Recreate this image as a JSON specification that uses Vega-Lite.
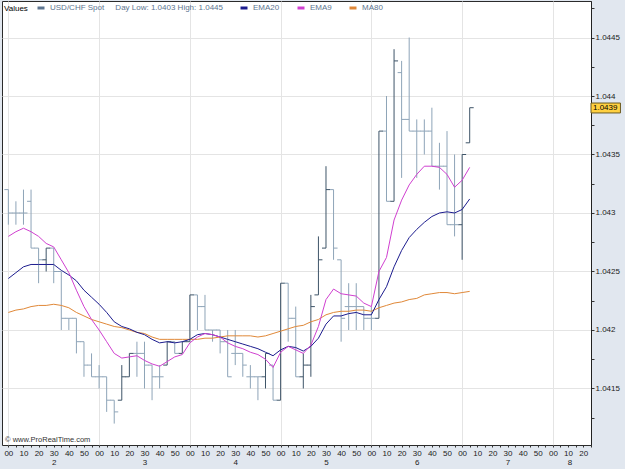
{
  "$schema": "https://vega.github.io/schema/vega-lite/v6.json",
  "width": 589,
  "height": 444,
  "autosize": {"type": "none"},
  "padding": {"left": 2, "top": 1, "right": 34, "bottom": 24},
  "background": "#e1e7ef",
  "data": {"values": [
    {"t":"2010-06-01T02:00:00Z","o":1.0432,"h":1.0432,"l":1.0429,"c":1.0430,"e20":1.04244,"e9":1.04280,"m80":1.04215},
    {"t":"2010-06-01T02:05:00Z","o":1.0430,"h":1.0431,"l":1.0429,"c":1.0430,"e20":1.04249,"e9":1.04284,"m80":1.04217},
    {"t":"2010-06-01T02:10:00Z","o":1.0430,"h":1.0432,"l":1.0429,"c":1.0430,"e20":1.04254,"e9":1.04287,"m80":1.04218},
    {"t":"2010-06-01T02:15:00Z","o":1.0431,"h":1.0432,"l":1.0427,"c":1.0427,"e20":1.04256,"e9":1.04284,"m80":1.04220},
    {"t":"2010-06-01T02:20:00Z","o":1.0427,"h":1.0427,"l":1.0424,"c":1.0426,"e20":1.04256,"e9":1.04280,"m80":1.04221},
    {"t":"2010-06-01T02:25:00Z","o":1.0426,"h":1.0427,"l":1.0425,"c":1.0427,"e20":1.04256,"e9":1.04274,"m80":1.04221},
    {"t":"2010-06-01T02:30:00Z","o":1.0427,"h":1.0427,"l":1.0424,"c":1.0425,"e20":1.04256,"e9":1.04271,"m80":1.04222},
    {"t":"2010-06-01T02:35:00Z","o":1.0425,"h":1.0425,"l":1.0420,"c":1.0421,"e20":1.04251,"e9":1.04260,"m80":1.04221},
    {"t":"2010-06-01T02:40:00Z","o":1.0421,"h":1.0421,"l":1.0420,"c":1.0421,"e20":1.04247,"e9":1.04249,"m80":1.04219},
    {"t":"2010-06-01T02:45:00Z","o":1.0421,"h":1.0421,"l":1.0418,"c":1.0419,"e20":1.04242,"e9":1.04234,"m80":1.04215},
    {"t":"2010-06-01T02:50:00Z","o":1.0419,"h":1.0419,"l":1.0416,"c":1.0417,"e20":1.04234,"e9":1.04220,"m80":1.04212},
    {"t":"2010-06-01T02:55:00Z","o":1.0417,"h":1.0418,"l":1.0416,"c":1.0416,"e20":1.04228,"e9":1.04209,"m80":1.04209},
    {"t":"2010-06-01T03:00:00Z","o":1.0416,"h":1.0417,"l":1.0415,"c":1.0416,"e20":1.04222,"e9":1.04200,"m80":1.04207},
    {"t":"2010-06-01T03:05:00Z","o":1.0416,"h":1.0416,"l":1.0413,"c":1.0414,"e20":1.04215,"e9":1.04190,"m80":1.04205},
    {"t":"2010-06-01T03:10:00Z","o":1.0414,"h":1.0414,"l":1.0412,"c":1.0413,"e20":1.04207,"e9":1.04180,"m80":1.04203},
    {"t":"2010-06-01T03:15:00Z","o":1.0414,"h":1.0417,"l":1.0414,"c":1.0416,"e20":1.04203,"e9":1.04176,"m80":1.04202},
    {"t":"2010-06-01T03:20:00Z","o":1.0416,"h":1.0418,"l":1.0416,"c":1.0418,"e20":1.04201,"e9":1.04177,"m80":1.04200},
    {"t":"2010-06-01T03:25:00Z","o":1.0418,"h":1.0419,"l":1.0416,"c":1.0418,"e20":1.04198,"e9":1.04178,"m80":1.04198},
    {"t":"2010-06-01T03:30:00Z","o":1.0418,"h":1.0419,"l":1.0415,"c":1.0417,"e20":1.04196,"e9":1.04174,"m80":1.04197},
    {"t":"2010-06-01T03:35:00Z","o":1.0417,"h":1.0417,"l":1.0414,"c":1.0416,"e20":1.04192,"e9":1.04171,"m80":1.04194},
    {"t":"2010-06-01T03:40:00Z","o":1.0416,"h":1.0417,"l":1.0415,"c":1.0416,"e20":1.04189,"e9":1.04169,"m80":1.04192},
    {"t":"2010-06-01T03:45:00Z","o":1.0417,"h":1.0419,"l":1.0417,"c":1.0419,"e20":1.04190,"e9":1.04173,"m80":1.04192},
    {"t":"2010-06-01T03:50:00Z","o":1.0419,"h":1.0419,"l":1.0418,"c":1.0418,"e20":1.04189,"e9":1.04177,"m80":1.04192},
    {"t":"2010-06-01T03:55:00Z","o":1.0418,"h":1.0419,"l":1.0418,"c":1.0419,"e20":1.04190,"e9":1.04179,"m80":1.04192},
    {"t":"2010-06-01T04:00:00Z","o":1.0419,"h":1.0423,"l":1.0419,"c":1.0423,"e20":1.04192,"e9":1.04189,"m80":1.04192},
    {"t":"2010-06-01T04:05:00Z","o":1.0423,"h":1.0423,"l":1.0420,"c":1.0422,"e20":1.04196,"e9":1.04194,"m80":1.04192},
    {"t":"2010-06-01T04:10:00Z","o":1.0422,"h":1.0423,"l":1.0420,"c":1.0420,"e20":1.04197,"e9":1.04197,"m80":1.04193},
    {"t":"2010-06-01T04:15:00Z","o":1.0420,"h":1.0420,"l":1.0419,"c":1.0420,"e20":1.04196,"e9":1.04196,"m80":1.04193},
    {"t":"2010-06-01T04:20:00Z","o":1.0420,"h":1.0420,"l":1.0418,"c":1.0419,"e20":1.04194,"e9":1.04194,"m80":1.04194},
    {"t":"2010-06-01T04:25:00Z","o":1.0419,"h":1.0420,"l":1.0416,"c":1.0416,"e20":1.04192,"e9":1.04189,"m80":1.04195},
    {"t":"2010-06-01T04:30:00Z","o":1.0418,"h":1.0420,"l":1.0417,"c":1.0418,"e20":1.04190,"e9":1.04186,"m80":1.04195},
    {"t":"2010-06-01T04:35:00Z","o":1.0418,"h":1.0418,"l":1.0416,"c":1.0417,"e20":1.04188,"e9":1.04184,"m80":1.04195},
    {"t":"2010-06-01T04:40:00Z","o":1.0416,"h":1.0417,"l":1.0415,"c":1.0416,"e20":1.04186,"e9":1.04181,"m80":1.04195},
    {"t":"2010-06-01T04:45:00Z","o":1.0416,"h":1.0416,"l":1.0414,"c":1.0416,"e20":1.04184,"e9":1.04179,"m80":1.04194},
    {"t":"2010-06-01T04:50:00Z","o":1.0416,"h":1.0418,"l":1.0415,"c":1.0418,"e20":1.04181,"e9":1.04175,"m80":1.04195},
    {"t":"2010-06-01T04:55:00Z","o":1.0417,"h":1.0417,"l":1.0414,"c":1.0414,"e20":1.04178,"e9":1.04168,"m80":1.04197},
    {"t":"2010-06-01T05:00:00Z","o":1.0414,"h":1.0424,"l":1.0414,"c":1.0424,"e20":1.04183,"e9":1.04181,"m80":1.04199},
    {"t":"2010-06-01T05:05:00Z","o":1.0424,"h":1.0424,"l":1.0419,"c":1.0421,"e20":1.04186,"e9":1.04186,"m80":1.04201},
    {"t":"2010-06-01T05:10:00Z","o":1.0421,"h":1.0422,"l":1.0416,"c":1.0416,"e20":1.04185,"e9":1.04183,"m80":1.04203},
    {"t":"2010-06-01T05:15:00Z","o":1.0416,"h":1.0418,"l":1.0415,"c":1.0417,"e20":1.04182,"e9":1.04180,"m80":1.04204},
    {"t":"2010-06-01T05:20:00Z","o":1.0417,"h":1.0423,"l":1.0416,"c":1.0422,"e20":1.04186,"e9":1.04187,"m80":1.04207},
    {"t":"2010-06-01T05:25:00Z","o":1.0423,"h":1.0428,"l":1.0423,"c":1.0426,"e20":1.04193,"e9":1.04203,"m80":1.04209},
    {"t":"2010-06-01T05:30:00Z","o":1.0427,"h":1.0434,"l":1.0427,"c":1.0432,"e20":1.04205,"e9":1.04226,"m80":1.04213},
    {"t":"2010-06-01T05:35:00Z","o":1.0432,"h":1.0432,"l":1.0426,"c":1.0427,"e20":1.04212,"e9":1.04235,"m80":1.04215},
    {"t":"2010-06-01T05:40:00Z","o":1.0426,"h":1.0426,"l":1.0419,"c":1.0421,"e20":1.04212,"e9":1.04231,"m80":1.04216},
    {"t":"2010-06-01T05:45:00Z","o":1.0422,"h":1.0424,"l":1.0420,"c":1.0422,"e20":1.04214,"e9":1.04230,"m80":1.04216},
    {"t":"2010-06-01T05:50:00Z","o":1.0422,"h":1.0424,"l":1.0420,"c":1.0422,"e20":1.04215,"e9":1.04229,"m80":1.04217},
    {"t":"2010-06-01T05:55:00Z","o":1.0422,"h":1.0422,"l":1.0420,"c":1.0421,"e20":1.04213,"e9":1.04223,"m80":1.04217},
    {"t":"2010-06-01T06:00:00Z","o":1.0421,"h":1.0422,"l":1.0420,"c":1.0421,"e20":1.04213,"e9":1.04220,"m80":1.04216},
    {"t":"2010-06-01T06:05:00Z","o":1.0421,"h":1.0437,"l":1.0421,"c":1.0437,"e20":1.04226,"e9":1.04250,"m80":1.04219},
    {"t":"2010-06-01T06:10:00Z","o":1.0437,"h":1.0440,"l":1.0431,"c":1.0431,"e20":1.04237,"e9":1.04262,"m80":1.04221},
    {"t":"2010-06-01T06:15:00Z","o":1.0431,"h":1.0444,"l":1.0431,"c":1.0443,"e20":1.04254,"e9":1.04294,"m80":1.04223},
    {"t":"2010-06-01T06:20:00Z","o":1.0442,"h":1.0443,"l":1.0433,"c":1.0438,"e20":1.04268,"e9":1.04311,"m80":1.04224},
    {"t":"2010-06-01T06:25:00Z","o":1.0438,"h":1.0445,"l":1.0437,"c":1.0437,"e20":1.04279,"e9":1.04324,"m80":1.04226},
    {"t":"2010-06-01T06:30:00Z","o":1.0437,"h":1.0438,"l":1.0433,"c":1.0437,"e20":1.04286,"e9":1.04333,"m80":1.04227},
    {"t":"2010-06-01T06:35:00Z","o":1.0437,"h":1.0438,"l":1.0435,"c":1.0437,"e20":1.04292,"e9":1.04340,"m80":1.04230},
    {"t":"2010-06-01T06:40:00Z","o":1.0437,"h":1.0439,"l":1.0434,"c":1.0434,"e20":1.04297,"e9":1.04340,"m80":1.04231},
    {"t":"2010-06-01T06:45:00Z","o":1.0434,"h":1.0436,"l":1.0432,"c":1.0434,"e20":1.04300,"e9":1.04339,"m80":1.04232},
    {"t":"2010-06-01T06:50:00Z","o":1.0434,"h":1.0437,"l":1.0429,"c":1.0429,"e20":1.04301,"e9":1.04333,"m80":1.04232},
    {"t":"2010-06-01T06:55:00Z","o":1.0429,"h":1.0435,"l":1.0428,"c":1.0429,"e20":1.04300,"e9":1.04322,"m80":1.04231},
    {"t":"2010-06-01T07:00:00Z","o":1.0429,"h":1.0435,"l":1.0426,"c":1.0435,"e20":1.04303,"e9":1.04328,"m80":1.04232},
    {"t":"2010-06-01T07:05:00Z","o":1.0436,"h":1.0439,"l":1.0436,"c":1.0439,"e20":1.04312,"e9":1.04339,"m80":1.04233}
  ]},
  "resolve": {"axis": {"x": "independent", "y": "independent"}},
  "layer": [
    {
      "mark": {"type": "rule", "strokeWidth": 1},
      "encoding": {
        "x": {"field": "t", "type": "temporal",
          "scale": {"type": "utc", "domain": [1275357348000, 1275380712000]},
          "axis": {"orient": "bottom", "title": null,
            "values": [1275357600000, 1275357900000, 1275358200000, 1275358500000, 1275358800000, 1275359100000, 1275359400000, 1275359700000, 1275360000000, 1275360300000, 1275360600000, 1275360900000,
              1275361200000, 1275361500000, 1275361800000, 1275362100000, 1275362400000, 1275362700000, 1275363000000, 1275363300000, 1275363600000, 1275363900000, 1275364200000, 1275364500000,
              1275364800000, 1275365100000, 1275365400000, 1275365700000, 1275366000000, 1275366300000, 1275366600000, 1275366900000, 1275367200000, 1275367500000, 1275367800000, 1275368100000,
              1275368400000, 1275368700000, 1275369000000, 1275369300000, 1275369600000, 1275369900000, 1275370200000, 1275370500000, 1275370800000, 1275371100000, 1275371400000, 1275371700000,
              1275372000000, 1275372300000, 1275372600000, 1275372900000, 1275373200000, 1275373500000, 1275373800000, 1275374100000, 1275374400000, 1275374700000, 1275375000000, 1275375300000,
              1275375600000, 1275375900000, 1275376200000, 1275376500000, 1275376800000, 1275377100000, 1275377400000, 1275377700000, 1275378000000, 1275378300000, 1275378600000, 1275378900000,
              1275379200000, 1275379500000, 1275379800000, 1275380100000, 1275380400000, 1275380700000],
            "labelExpr": "utcminutes(datum.value) % 10 == 0 ? utcFormat(datum.value, '%M') : ''",
            "tickSize": 2, "labelPadding": 2, "labelFlush": false, "labelOverlap": false, "labelBound": false,
            "domain": false, "grid": false, "labelFontSize": 8, "labelColor": "#222222", "tickColor": "#333333"}},
        "y": {"field": "l", "type": "quantitative",
          "scale": {"domain": [1.041017, 1.044812], "nice": false, "zero": false},
          "axis": {"orient": "right", "title": null,
            "values": [1.0415, 1.042, 1.0425, 1.043, 1.0435, 1.044, 1.0445],
            "format": ".4~f",
            "tickSize": 3, "labelPadding": 1, "domain": true, "domainColor": "#222222", "tickColor": "#333333",
            "labelFontSize": 8, "labelColor": "#222222", "labelOverlap": false, "labelFlush": false,
            "grid": true, "gridColor": "#e4e4e4"}},
        "y2": {"field": "h"},
        "color": {"condition": {"test": "datum.c > datum.o", "value": "#3e5468"}, "value": "#8ea4b8"}
      }
    },
    {
      "mark": {"type": "tick", "orient": "horizontal", "thickness": 1, "xOffset": -2, "opacity": 1},
      "encoding": {
        "x": {"field": "t", "type": "temporal",
          "axis": {"orient": "bottom", "title": null,
            "values": [1275359400000, 1275363000000, 1275366600000, 1275370200000, 1275373800000, 1275377400000, 1275379860000],
            "labelExpr": "'' + utchours(datum.value)",
            "ticks": false, "domain": false, "grid": false, "labelPadding": 13,
            "labelFlush": false, "labelOverlap": false, "labelBound": false,
            "labelFontSize": 8, "labelColor": "#222222"}},
        "y": {"field": "o", "type": "quantitative",
          "axis": {"orient": "right", "title": null,
            "values": [1.04125, 1.04175, 1.04225, 1.04275, 1.04325, 1.04375, 1.04425, 1.04475],
            "labels": false, "domain": false, "grid": false, "tickSize": 3, "tickColor": "#333333"}},
        "size": {"value": 4},
        "color": {"condition": {"test": "datum.c > datum.o", "value": "#3e5468"}, "value": "#8ea4b8"}
      }
    },
    {
      "mark": {"type": "tick", "orient": "horizontal", "thickness": 1, "xOffset": 2, "opacity": 1},
      "encoding": {
        "x": {"field": "t", "type": "temporal",
          "axis": {"orient": "bottom", "title": null,
            "values": [1275357600000, 1275361200000, 1275364800000, 1275368400000, 1275372000000, 1275375600000, 1275379200000],
            "labels": false, "ticks": false, "domain": false, "grid": true, "gridColor": "#e4e4e4"}},
        "y": {"field": "c", "type": "quantitative", "axis": null},
        "size": {"value": 4},
        "color": {"condition": {"test": "datum.c > datum.o", "value": "#3e5468"}, "value": "#8ea4b8"}
      }
    },
    {
      "mark": {"type": "line", "strokeWidth": 1},
      "encoding": {
        "x": {"field": "t", "type": "temporal", "axis": null},
        "y": {"field": "m80", "type": "quantitative", "axis": null},
        "color": {"datum": "MA80", "type": "nominal",
          "scale": {"domain": ["USD/CHF Spot", "EMA20", "EMA9", "MA80"],
                    "range": ["#5d7590", "#1c1c8e", "#d040d0", "#e08838"]},
          "legend": {"orient": "top-left", "offset": 1, "padding": 1, "direction": "horizontal",
            "title": "Values", "titleOrient": "left", "titleFontSize": 8, "titleFontWeight": "normal",
            "titleColor": "#000000", "titlePadding": 8,
            "labelFontSize": 8, "labelColor": "#5d7590", "labelOffset": 4, "columnPadding": 11, "labelLimit": 400,
            "symbolType": "stroke", "symbolStrokeWidth": 3, "symbolSize": 49,
            "labelExpr": "datum.label == 'USD/CHF Spot' ? 'USD/CHF Spot\u00a0\u00a0\u00a0\u00a0 Day Low: 1.0403 High: 1.0445' : datum.label"}}
      }
    },
    {
      "mark": {"type": "line", "strokeWidth": 1},
      "encoding": {
        "x": {"field": "t", "type": "temporal", "axis": null},
        "y": {"field": "e20", "type": "quantitative", "axis": null},
        "color": {"datum": "EMA20", "type": "nominal"}
      }
    },
    {
      "mark": {"type": "line", "strokeWidth": 1},
      "encoding": {
        "x": {"field": "t", "type": "temporal", "axis": null},
        "y": {"field": "e9", "type": "quantitative", "axis": null},
        "color": {"datum": "EMA9", "type": "nominal"}
      }
    },
    {
      "data": {"values": [{"s": "1.0439"}]},
      "mark": {"type": "rect", "fill": "#ffd040", "stroke": "#6b5a20", "strokeWidth": 1},
      "encoding": {
        "x": {"datum": 1275380712000, "type": "temporal", "axis": null},
        "x2": {"datum": 1275381880000},
        "y": {"datum": 1.04394, "type": "quantitative", "axis": null},
        "y2": {"datum": 1.043855}
      }
    },
    {
      "data": {"values": [{"s": "1.0439"}]},
      "mark": {"type": "text", "align": "left", "baseline": "middle", "fontSize": 8, "color": "#000000", "font": "Liberation Sans"},
      "encoding": {
        "x": {"datum": 1275380790000, "type": "temporal", "axis": null},
        "y": {"datum": 1.043897, "type": "quantitative", "axis": null},
        "text": {"field": "s"}
      }
    },
    {
      "data": {"values": [{"s": "© www.ProRealTime.com"}]},
      "mark": {"type": "text", "align": "left", "baseline": "alphabetic", "fontSize": 7.5, "color": "#333333", "font": "Liberation Sans"},
      "encoding": {
        "x": {"datum": 1275357470000, "type": "temporal", "axis": null},
        "y": {"datum": 1.0410385, "type": "quantitative", "axis": null},
        "text": {"field": "s"}
      }
    }
  ],
  "config": {
    "font": "Liberation Sans",
    "view": {"stroke": "#2b2b2b", "strokeWidth": 1, "fill": "#ffffff"},
    "axis": {"labelFont": "Liberation Sans"},
    "legend": {"labelFont": "Liberation Sans", "titleFont": "Liberation Sans"}
  }
}
